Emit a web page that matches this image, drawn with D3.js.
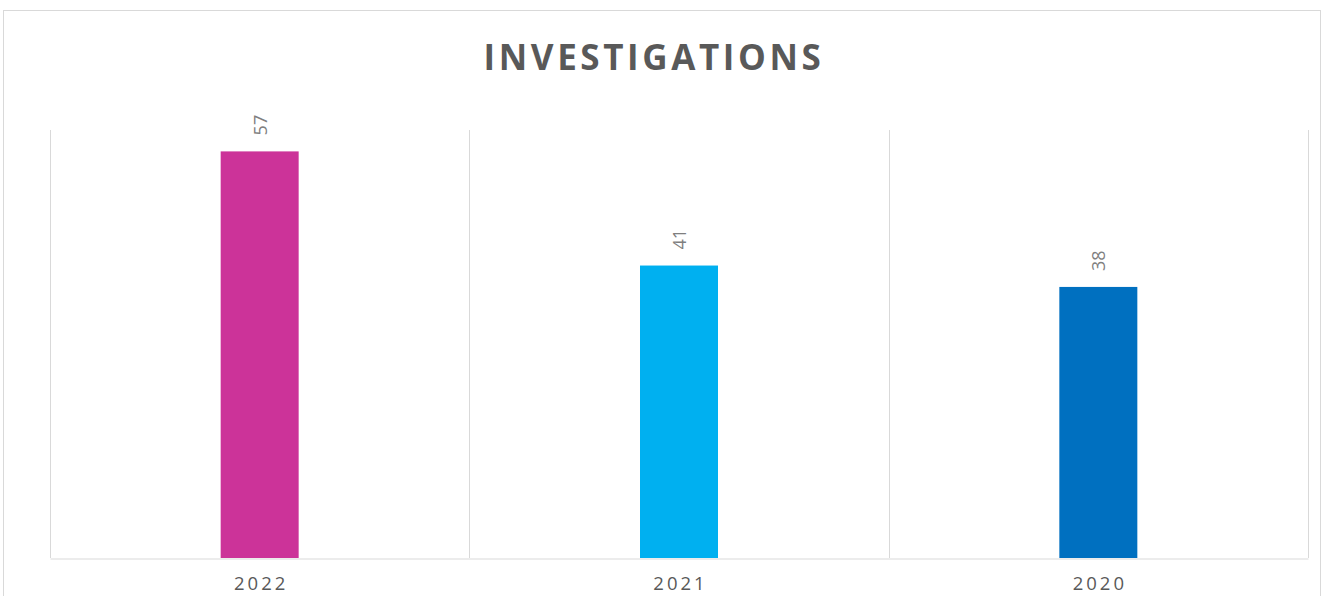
<!DOCTYPE html>
<html>
<head>
<meta charset="utf-8">
<script src="https://cdn.jsdelivr.net/npm/d3@7"></script>
<style>
  body { margin: 0; background: #fff; }
  text { font-family: "Open Sans", sans-serif; }
</style>
</head>
<body>
<div id="chart"></div>
<script>
// data
const years = ['2022', '2021', '2020'];
const counts = [57, 41, 38];
const barColors = ['#CC3399', '#00B0F0', '#0070C0'];

const width = 1330;
const height = 596;
const margin = { top: 130, right: 22, bottom: 38, left: 50 };

const svg = d3.select('#chart')
  .append('svg')
  .attr('width', width)
  .attr('height', height);

// chart frame
svg.append('rect')
  .attr('x', 3.5)
  .attr('y', 10.5)
  .attr('width', 1317)
  .attr('height', 600)
  .attr('fill', 'none')
  .attr('stroke', '#d9d9d9');

// title
svg.append('text')
  .attr('x', 654)
  .attr('y', 69.5)
  .attr('text-anchor', 'middle')
  .style('font-size', '35px')
  .style('font-weight', 'bold')
  .style('letter-spacing', '3.6px')
  .style('fill', '#595959')
  .text('INVESTIGATIONS');

const x = d3.scaleBand()
  .domain(years)
  .range([margin.left, width - margin.right])
  .paddingInner(0)
  .paddingOuter(0);

const y = d3.scaleLinear()
  .domain([0, 60])
  .range([height - margin.bottom, margin.top]);

const chartGroup = svg.append('g');

// vertical category gridlines
const edges = years.map((d) => x(d)).concat([x(years[years.length - 1]) + x.bandwidth()]);
chartGroup.selectAll('.grid')
  .data(edges)
  .enter()
  .append('line')
  .attr('class', 'grid')
  .attr('x1', (d) => Math.round(d) + 0.5)
  .attr('x2', (d) => Math.round(d) + 0.5)
  .attr('y1', y(60))
  .attr('y2', y(0))
  .attr('stroke', '#d9d9d9')
  .attr('stroke-width', 1);

// bars
const barW = x.bandwidth() * 0.186;
chartGroup.selectAll('.bar')
  .data(counts)
  .enter()
  .append('rect')
  .attr('class', 'bar')
  .attr('x', (d, i) => x(years[i]) + x.bandwidth() / 2 - barW / 2)
  .attr('y', (d) => y(d))
  .attr('width', barW)
  .attr('height', (d) => y(0) - y(d))
  .attr('fill', (d, i) => barColors[i]);

// baseline axis
const xAxis = d3.axisBottom(x).tickSize(0).tickPadding(18);
const axisG = svg.append('g')
  .attr('transform', `translate(0, ${y(0) + 0.5})`)
  .call(xAxis);
axisG.select('.domain').attr('stroke', '#d9d9d9');
axisG.selectAll('text')
  .style('font-size', '18.5px')
  .style('letter-spacing', '3px')
  .style('fill', '#595959')
  .attr('dx', '1.5px');

// rotated value labels
chartGroup.selectAll('.val')
  .data(counts)
  .enter()
  .append('text')
  .attr('class', 'val')
  .attr('transform', (d, i) => `translate(${x(years[i]) + x.bandwidth() / 2 + 7}, ${y(d) - 16}) rotate(-90)`)
  .attr('text-anchor', 'start')
  .style('font-size', '18px')
  .style('fill', '#7f7f7f')
  .text((d) => d);
</script>
</body>
</html>
